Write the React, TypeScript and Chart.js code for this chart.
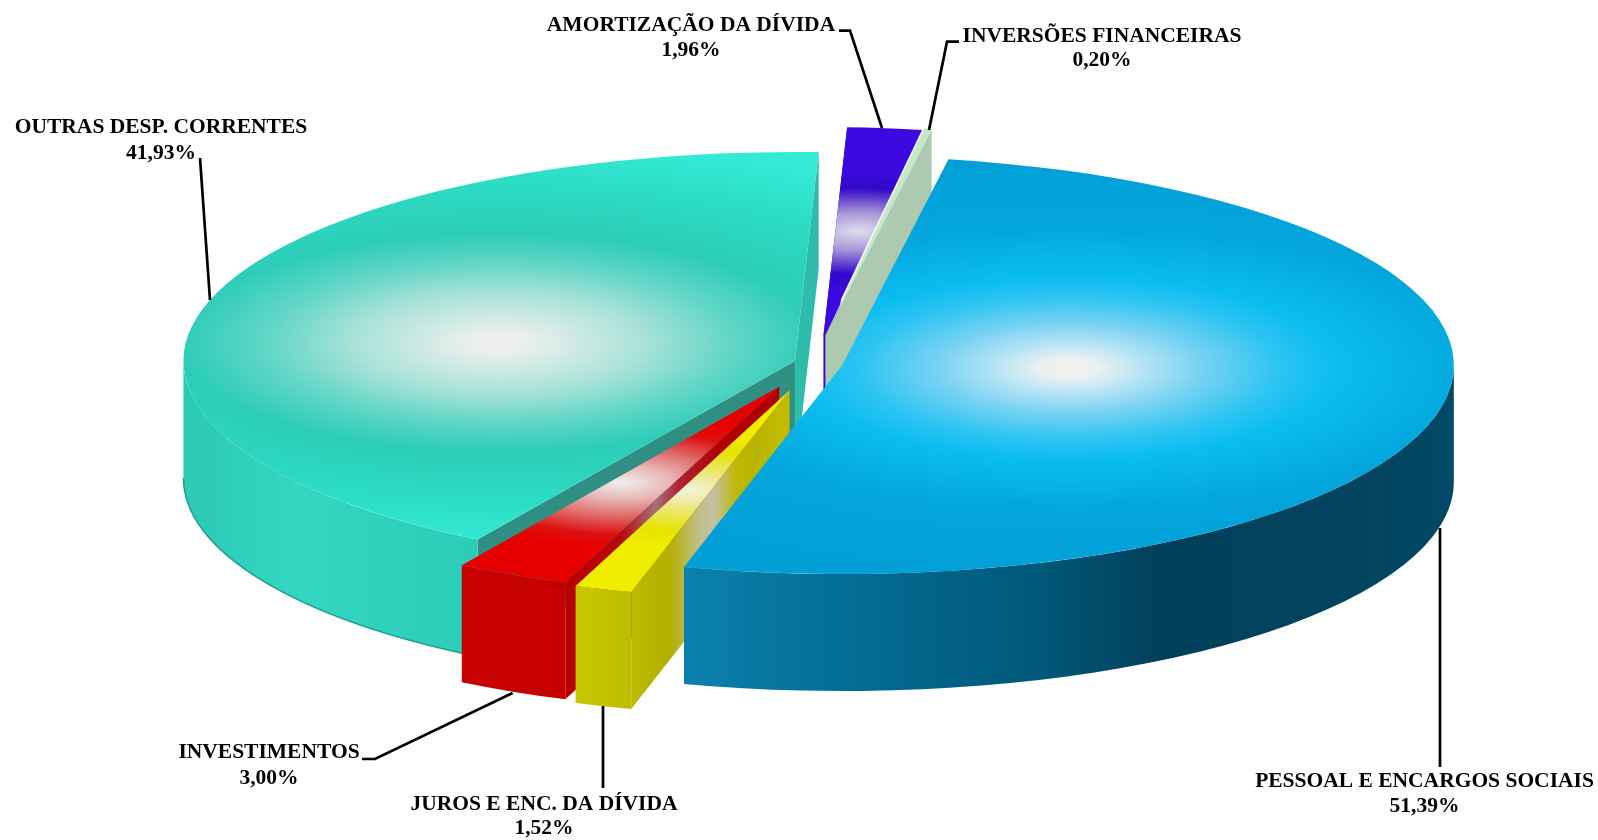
import React, { useEffect, useRef } from "react";
import { Chart, registerables } from "chart.js";

Chart.register(...registerables);

const categories = [
  "PESSOAL E ENCARGOS SOCIAIS",
  "JUROS E ENC. DA DÍVIDA",
  "INVESTIMENTOS",
  "OUTRAS DESP. CORRENTES",
  "AMORTIZAÇÃO DA DÍVIDA",
  "INVERSÕES FINANCEIRAS",
];
const shares = [51.39, 1.52, 3.0, 41.93, 1.96, 0.2];
const explode = [24.5, 98, 92, 24.5, 80, 84];

const W = 1598;
const H = 840;
const PIE = { x: 818.4, y: 363.3, radius: 611.5, tilt: 0.3417, depth: 117, rotation: 10 };
const WALL_ORDER = [4, 5, 3, 2, 1, 0];

type Stops = [number, string][];
type SliceStyle = {
  hx: number; hy: number; hr: number; top: Stops;
  nx?: number; ny?: number;
  outer?: [number, string][]; startWall?: [number, string][]; endWall?: [number, string][];
  rim?: string;
};
const STYLES: SliceStyle[] = [
  {
    hx: 227, hy: 9, hr: 600,
    top: [[0, "#f8efe8"], [0.05, "#eaf0f2"], [0.12, "#b8e4f4"], [0.22, "#78d2f2"], [0.35, "#2cc4f2"], [0.45, "#0abcf0"], [0.7, "#03a5dc"], [1, "#03a0d8"]],
    outer: [[685, "#0a80ad"], [860, "#036c94"], [1040, "#005878"], [1160, "#02405a"], [1380, "#03445e"], [1455, "#004a68"]],
  },
  {
    hx: -102, hy: 293, hr: 170, nx: 1, ny: -5,
    top: [[0, "#f4f2e0"], [0.3, "#ece880"], [0.7, "#e6e400"], [1, "#f0ee00"]],
    outer: [[575, "#c8c800"], [630, "#bdbd00"]],
    startWall: [[627, "#bdbb00"], [670, "#b3b000"], [697, "#c0be80"], [713, "#c4c0a8"], [737, "#bfb800"], [753, "#b8b400"], [789, "#c4bc00"]],
  },
  {
    hx: -157, hy: 281, hr: 190, nx: 1, ny: -5,
    top: [[0, "#f2eeee"], [0.25, "#e8b8b8"], [0.55, "#e06060"], [0.8, "#dd1010"], [1, "#e80000"]],
    outer: [[460, "#c80000"], [566, "#c60000"]],
    startWall: [[565, "#b80000"], [620, "#b80808"], [655, "#a87078"], [680, "#b02030"], [720, "#b00000"]],
  },
  {
    hx: -296, hy: -53, hr: 580,
    top: [[0, "#f2f0ee"], [0.06, "#e8eeec"], [0.14, "#cce9e3"], [0.25, "#a8e2d8"], [0.4, "#62d6c6"], [0.55, "#2ccdb8"], [0.8, "#2cdcc4"], [1, "#33ead6"]],
    outer: [[184, "#2cc9b4"], [300, "#34d6c2"], [470, "#2bcdb8"]],
    startWall: [[400, "#2f8f82"], [800, "#2f8f82"]],
    endWall: [[795, "#2fbdab"], [820, "#2fbdab"]],
    rim: "#1f9e8e",
  },
  {
    hx: 35, hy: -307, hr: 180, nx: -3,
    top: [[0, "#e0dcec"], [0.3, "#a898d8"], [0.7, "#3208c8"], [1, "#3c0ae0"]],
    startWall: [[815, "#3a08d8"], [850, "#3a08d8"]],
  },
  {
    hx: 0, hy: 0, hr: 600, nx: -7,
    top: [[0, "#c4e8cc"], [1, "#c4e8cc"]],
    endWall: [[820, "#adc9b0"], [940, "#adc9b0"]],
  },
];

type Callout = { index: number; cx: number; y1: number; y2: number; line: [number, number][] };
const CALLOUTS: Callout[] = [
  { index: 0, cx: 1424.5, y1: 781, y2: 806, line: [[1440, 528], [1440, 767]] },
  { index: 1, cx: 544, y1: 804, y2: 828, line: [[603, 706], [603, 788]] },
  { index: 2, cx: 269, y1: 752, y2: 778, line: [[512.6, 693], [375, 759], [362, 759]] },
  { index: 3, cx: 161, y1: 127, y2: 153, line: [[200, 158], [210, 300]] },
  { index: 4, cx: 691, y1: 25, y2: 50, line: [[839, 30.7], [850, 30.7], [882, 128]] },
  { index: 5, cx: 1102, y1: 36, y2: 60, line: [[959, 41.7], [947, 41.7], [929, 130]] },
];

const FONT = 'bold 21.5px "Liberation Serif"';

function fillBand(ctx: CanvasRenderingContext2D, stops: [number, string][]) {
  const x0 = stops[0][0];
  const x1 = stops[stops.length - 1][0];
  const g = ctx.createLinearGradient(x0, 0, x1, 0);
  stops.forEach(([x, c]) => g.addColorStop((x - x0) / (x1 - x0), c));
  return g;
}

const pie3d = {
  id: "pie3d",
  beforeDatasetsDraw(chart: any) {
    const ctx: CanvasRenderingContext2D = chart.ctx;
    const arcs = chart.getDatasetMeta(0).data;
    const k = PIE.tilt;
    const d = PIE.depth;
    const apex = (arc: any, i: number) => {
      const mid = (arc.startAngle + arc.endAngle) / 2;
      return {
        ax: PIE.x + Math.cos(mid) * explode[i] + (STYLES[i].nx ?? 0),
        ay: PIE.y + Math.sin(mid) * explode[i] * k + (STYLES[i].ny ?? 0),
      };
    };

    WALL_ORDER.forEach((i) => {
      const arc = arcs[i];
      const st = STYLES[i];
      const { startAngle: a0, endAngle: a1, outerRadius: r } = arc;
      const { ax, ay } = apex(arc, i);
      const radial = (stops: [number, string][], a: number) => {
        const px = ax + Math.cos(a) * r;
        const py = ay + Math.sin(a) * r * k;
        ctx.beginPath();
        ctx.moveTo(ax, ay);
        ctx.lineTo(px, py);
        ctx.lineTo(px, py + d);
        ctx.lineTo(ax, ay + d);
        ctx.closePath();
        ctx.fillStyle = fillBand(ctx, stops);
        ctx.fill();
      };
      if (st.startWall) radial(st.startWall, a0);
      if (st.endWall) radial(st.endWall, a1);
      if (st.outer) {
        const from = Math.max(a0, 0);
        const to = Math.min(a1, Math.PI);
        if (to > from) {
          ctx.beginPath();
          ctx.ellipse(ax, ay, r, r * k, 0, from, to);
          ctx.ellipse(ax, ay + d, r, r * k, 0, to, from, true);
          ctx.closePath();
          ctx.fillStyle = fillBand(ctx, st.outer);
          ctx.fill();
          if (st.rim) {
            ctx.beginPath();
            ctx.ellipse(ax, ay + d, r, r * k, 0, from, to);
            ctx.strokeStyle = st.rim;
            ctx.lineWidth = 1.5;
            ctx.stroke();
          }
        }
      }
    });

    // Top faces: the library's own arc elements, tilted and pulled out of the pie.
    arcs.forEach((arc: any, i: number) => {
      const { ax, ay } = apex(arc, i);
      ctx.save();
      ctx.translate(ax, ay);
      ctx.scale(1, k);
      ctx.translate(-chart.width / 2, -chart.height / 2);
      arc.draw(ctx);
      ctx.restore();
    });
    return false;
  },
  afterDraw(chart: any) {
    const ctx: CanvasRenderingContext2D = chart.ctx;
    ctx.save();
    ctx.strokeStyle = "#000";
    ctx.lineWidth = 2.7;
    ctx.lineJoin = "miter";
    CALLOUTS.forEach((c) => {
      ctx.beginPath();
      c.line.forEach(([x, y], j) => (j ? ctx.lineTo(x, y) : ctx.moveTo(x, y)));
      ctx.stroke();
    });
    ctx.fillStyle = "#000";
    ctx.font = FONT;
    ctx.textAlign = "center";
    ctx.textBaseline = "middle";
    CALLOUTS.forEach((c) => {
      ctx.fillText(categories[c.index], c.cx, c.y1);
      ctx.fillText(shares[c.index].toFixed(2).replace(".", ",") + "%", c.cx, c.y2);
    });
    ctx.restore();
  },
};

export default function App() {
  const ref = useRef<HTMLCanvasElement | null>(null);
  useEffect(() => {
    if (!ref.current) return;
    const chart = new Chart(ref.current, {
      type: "pie",
      data: {
        labels: categories,
        datasets: [
          {
            data: shares,
            borderWidth: 0,
            radius: PIE.radius,
            backgroundColor: (c: any) => {
              if (c.dataIndex === undefined) return "#000";
              const st = STYLES[c.dataIndex];
              const x = c.chart.width / 2 + st.hx;
              const y = c.chart.height / 2 + st.hy;
              const g = c.chart.ctx.createRadialGradient(x, y, 0, x, y, st.hr);
              st.top.forEach(([p, col]) => g.addColorStop(p, col));
              return g;
            },
          } as any,
        ],
      },
      options: {
        animation: false,
        responsive: false,
        rotation: PIE.rotation,
        layout: { padding: 0 },
        plugins: { legend: { display: false }, tooltip: { enabled: false } },
      } as any,
      plugins: [pie3d],
    });
    return () => chart.destroy();
  }, []);
  return (
    <div style={{ position: "absolute", left: 0, top: 0, width: W, height: H, background: "#fff" }}>
      <canvas ref={ref} width={W} height={H} style={{ display: "block" }} />
    </div>
  );
}
